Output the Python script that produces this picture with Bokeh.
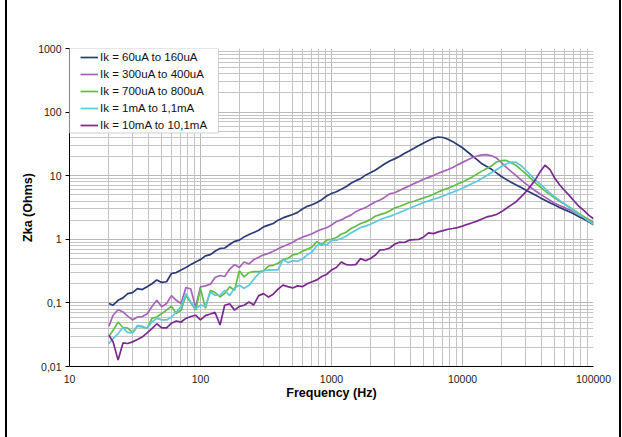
from bokeh.plotting import figure
from bokeh.models import Range1d, FixedTicker, Legend, LegendItem, BoxAnnotation, InlineStyleSheet
from bokeh.embed import file_html
from bokeh.resources import INLINE

# ---------------- data ----------------
freq_hz = [20, 21.5, 23.5, 25.6, 27.8, 30.3, 33, 35.9, 39.1, 42.6, 46.4, 50.6, 55.1, 60, 65.3, 71.1, 77.4, 84.3, 91.8,
           100, 109, 119, 129, 141, 153, 167, 182, 198, 215, 235, 255, 278, 303, 330, 359, 391, 426, 464, 506, 551,
           600, 653, 711, 774, 843, 918,
           1000, 1089, 1186, 1292, 1407, 1532, 1668, 1817, 1979, 2154, 2346, 2555, 2783, 3030, 3300, 3594, 3914,
           4262, 4642, 5055, 5505, 5995, 6529, 7110, 7743, 8432, 9183,
           10000, 10890, 11860, 12920, 14070, 15320, 16680, 18170, 19790, 21540, 23460, 25550, 27830, 30300, 33000,
           35940, 39140, 42620, 46420, 50550, 55050, 59950, 65290, 71100, 77430, 84320, 91830, 100000]

zka_60u_160u = [0.098, 0.092, 0.11, 0.12, 0.14, 0.145, 0.168, 0.162, 0.18, 0.20, 0.23, 0.21, 0.215, 0.29, 0.30, 0.33, 0.36, 0.40, 0.44,
                0.48, 0.55, 0.575, 0.65, 0.72, 0.73, 0.83, 0.93, 0.97, 1.09, 1.19, 1.28, 1.39, 1.57, 1.67, 1.77, 2.0, 2.17, 2.31,
                2.45, 2.65, 3.0, 3.3, 3.5, 3.8, 4.2, 4.8, 5.25, 5.6, 6.1, 6.7, 7.6, 8.3, 9.0, 10.2, 11.1, 12.2, 13.7, 15.4, 17.0,
                18.4, 20.0, 22.3, 24.5, 27.1, 29.8, 32.8, 35.8, 38.9, 40.6, 39.9, 37.5, 34.3, 30.7, 27.5, 23.8, 20.6, 17.9, 15.4, 14.0, 12.6, 11.1,
                9.71, 8.75, 7.90, 7.19, 6.59, 5.98, 5.46, 4.99, 4.52, 4.12, 3.75, 3.45, 3.17, 2.93, 2.72, 2.49, 2.27, 2.08, 1.88, 1.70]

zka_300u_400u = [0.043, 0.064, 0.078, 0.072, 0.062, 0.054, 0.060, 0.061, 0.067, 0.088, 0.11, 0.087, 0.098, 0.13, 0.11, 0.098, 0.175, 0.165, 0.085,
                 0.179, 0.185, 0.197, 0.25, 0.27, 0.26, 0.34, 0.40, 0.36, 0.44, 0.41, 0.48, 0.52, 0.57, 0.60, 0.65, 0.71, 0.77, 0.83,
                 0.90, 1.0, 1.08, 1.15, 1.22, 1.34, 1.44, 1.52, 1.68, 1.9, 2.02, 2.22, 2.40, 2.72, 2.94, 3.15, 3.5, 3.85, 4.15, 4.6, 5.2,
                 5.4, 5.85, 6.38, 6.89, 7.51, 8.13, 8.8, 9.4, 10.1, 10.9, 11.7, 12.5, 13.5, 14.8, 16.2, 17.7, 19.2, 20.4, 21.3, 21.5, 20.6, 19.0,
                 16.0, 13.6, 11.7, 10.1, 8.7, 7.5, 6.6, 5.8, 5.15, 4.6, 4.1, 3.7, 3.4, 3.15, 2.92, 2.68, 2.45, 2.25, 2.05, 1.85]

zka_700u_800u = [0.030, 0.037, 0.050, 0.041, 0.040, 0.034, 0.043, 0.042, 0.040, 0.057, 0.060, 0.068, 0.077, 0.089, 0.068, 0.077, 0.132, 0.10, 0.077,
                 0.168, 0.082, 0.158, 0.146, 0.124, 0.141, 0.179, 0.158, 0.32, 0.256, 0.30, 0.31, 0.31, 0.32, 0.38, 0.39, 0.42, 0.48, 0.50,
                 0.57, 0.59, 0.65, 0.70, 0.76, 0.92, 0.81, 0.98, 1.0, 1.07, 1.2, 1.29, 1.48, 1.61, 1.77, 1.88, 2.04, 2.3, 2.44, 2.58, 2.78,
                 3.12, 3.28, 3.52, 3.79, 3.97, 4.23, 4.48, 4.76, 5.12, 5.56, 5.98, 6.36, 6.84, 7.43, 7.98, 8.71, 9.58, 10.6, 11.8, 13.0, 14.3, 16.4,
                 17.2, 17.4, 16.0, 14.6, 12.6, 10.9, 9.16, 7.69, 6.65, 5.79, 5.03, 4.44, 3.98, 3.59, 3.22, 2.87, 2.55, 2.27, 2.02, 1.80]

zka_1m_1m1 = [0.023, 0.0275, 0.033, 0.041, 0.034, 0.034, 0.044, 0.043, 0.040, 0.050, 0.057, 0.054, 0.054, 0.060, 0.071, 0.088, 0.14, 0.104, 0.081,
              0.092, 0.089, 0.148, 0.132, 0.132, 0.158, 0.13, 0.172, 0.19, 0.17, 0.19, 0.235, 0.29, 0.32, 0.327, 0.33, 0.33, 0.48, 0.43,
              0.46, 0.45, 0.49, 0.57, 0.63, 0.80, 0.86, 0.81, 0.95, 0.97, 1.03, 1.12, 1.26, 1.39, 1.53, 1.61, 1.72, 1.87, 2.03, 2.18, 2.29,
              2.45, 2.64, 2.84, 3.05, 3.28, 3.52, 3.79, 4.02, 4.27, 4.48, 4.81, 5.17, 5.5, 5.92, 6.36, 6.92, 7.53, 8.18, 9.04, 10.1, 11.2, 12.4,
              14.0, 15.3, 16.4, 16.3, 14.5, 12.3, 10.3, 8.6, 7.38, 6.31, 5.38, 4.66, 4.09, 3.60, 3.16, 2.79, 2.47, 2.19, 1.94, 1.72]

zka_10m_10m1 = [0.031, 0.0245, 0.0126, 0.0235, 0.023, 0.0244, 0.0266, 0.029, 0.0337, 0.0395, 0.047, 0.0405, 0.0405, 0.048, 0.052, 0.050, 0.057, 0.061, 0.064,
                0.054, 0.063, 0.067, 0.071, 0.045, 0.092, 0.097, 0.077, 0.088, 0.092, 0.103, 0.093, 0.13, 0.14, 0.124, 0.137, 0.165, 0.19, 0.18,
                0.172, 0.185, 0.18, 0.20, 0.215, 0.23, 0.26, 0.28, 0.33, 0.36, 0.44, 0.40, 0.394, 0.40, 0.50, 0.46, 0.50, 0.56, 0.68, 0.69, 0.73,
                0.837, 0.90, 0.89, 0.97, 0.99, 1.0, 1.09, 1.26, 1.23, 1.31, 1.37, 1.44, 1.48, 1.53, 1.61, 1.72, 1.82, 1.93, 2.08, 2.25, 2.33, 2.45,
                2.7, 3.05, 3.45, 3.87, 4.6, 5.5, 6.8, 8.6, 11.5, 14.6, 12.6, 9.2, 7.2, 5.9, 4.9, 4.0, 3.3, 2.85, 2.4, 2.1]

series_labels = ["Ik = 60uA to 160uA", "Ik = 300uA to 400uA", "Ik = 700uA to 800uA",
                 "Ik = 1mA to 1,1mA", "Ik = 10mA to 10,1mA"]
series_values = [zka_60u_160u, zka_300u_400u, zka_700u_800u, zka_1m_1m1, zka_10m_10m1]
series_colors = ["#2b3a76", "#a862b8", "#63bd45", "#5cc8de", "#7a2a8e"]

x_ticks = [10, 100, 1000, 10000, 100000]
y_ticks = [0.01, 0.1, 1, 10, 100, 1000]
y_tick_labels = ["0,01", "0,1", "1", "10", "100", "1000"]

# ---------------- layout ----------------
W, H = 622, 437
FL, FR, FT, FB = 69, 593, 48, 366
FW, FH = FR - FL, FB - FT

edge_css = InlineStyleSheet(css="""
:host { position: relative; }
:host::before, :host::after {
  content: ""; position: absolute; top: 0; width: 2px; height: 437px;
  background: #000; z-index: 50; pointer-events: none;
}
:host::before { left: 5px; }
:host::after { left: 619px; }
""")

p = figure(width=W, height=H, x_axis_type="log", y_axis_type="log",
           x_range=Range1d(10, 100000), y_range=Range1d(0.01, 1000),
           output_backend="svg", toolbar_location=None,
           min_border_left=FL, min_border_right=W - FR,
           min_border_top=FT, min_border_bottom=H - FB,
           stylesheets=[edge_css])
p.outline_line_color = None
p.background_fill_color = "white"
p.border_fill_color = "white"

minor_x = [m * 10 ** e for e in range(1, 5) for m in range(2, 10)]
minor_y = [m * 10.0 ** e for e in range(-2, 3) for m in range(2, 10)]
p.xaxis.ticker = FixedTicker(ticks=x_ticks, minor_ticks=minor_x)
p.yaxis.ticker = FixedTicker(ticks=y_ticks, minor_ticks=minor_y)
p.yaxis.major_label_overrides = {t: s for t, s in zip(y_ticks, y_tick_labels)}
p.xaxis.major_label_overrides = {t: str(t) for t in x_ticks}

for g in (p.xgrid, p.ygrid):
    g.grid_line_color = "#b9b9b9"
    g.grid_line_width = 1
    g.minor_grid_line_color = "#c4c4c4"
    g.minor_grid_line_width = 1

for ax in (p.xaxis, p.yaxis):
    ax.axis_line_color = "black"
    ax.axis_line_width = 1
    ax.minor_tick_line_color = None
    ax.major_label_text_font = "Liberation Sans"
    ax.major_label_text_font_size = "10.5px"
    ax.major_label_text_color = "#222222"
    ax.axis_label_text_font = "Liberation Sans"
    ax.axis_label_text_font_size = "12.5px"
    ax.axis_label_text_font_style = "bold"
    ax.axis_label_text_color = "black"

p.xaxis.major_tick_out = 0
p.xaxis.major_tick_in = 0
p.xaxis.major_label_standoff = 4
p.xaxis.axis_label = "Frequency (Hz)"
p.xaxis.axis_label_standoff = 0

p.yaxis.major_tick_out = 4
p.yaxis.major_tick_in = 0
p.yaxis.major_tick_line_color = "black"
p.yaxis.major_label_standoff = 4
p.yaxis.axis_label = "Zka (Ohms)"
p.yaxis.axis_label_standoff = 0

renderers = []
for vals, col in zip(series_values, series_colors):
    r = p.line(freq_hz, vals, line_color=col, line_width=1.7)
    renderers.append(r)

# legend box (frame-anchored box, 149 x 84 px)
dec_x = FW / 4.0
dec_y = FH / 5.0
box = BoxAnnotation(left=10, top=1000,
                    right=10 ** (1 + 149 / dec_x), bottom=10 ** (3 - 84.5 / dec_y),
                    fill_color="white", fill_alpha=1.0,
                    line_color="#cfcfcf", line_width=1, line_alpha=1.0)
p.add_layout(box)

legend = Legend(items=[LegendItem(label=l, renderers=[r]) for l, r in zip(series_labels, renderers)],
                location=(11, FH - 85), padding=0, margin=0, spacing=1,
                label_height=16, glyph_height=16, glyph_width=18, label_standoff=2,
                border_line_color=None, background_fill_alpha=0,
                label_text_font="Liberation Sans", label_text_font_size="11.5px",
                label_text_color="#111111")
p.add_layout(legend)

open("out.html", "w").write(file_html(p, INLINE))
